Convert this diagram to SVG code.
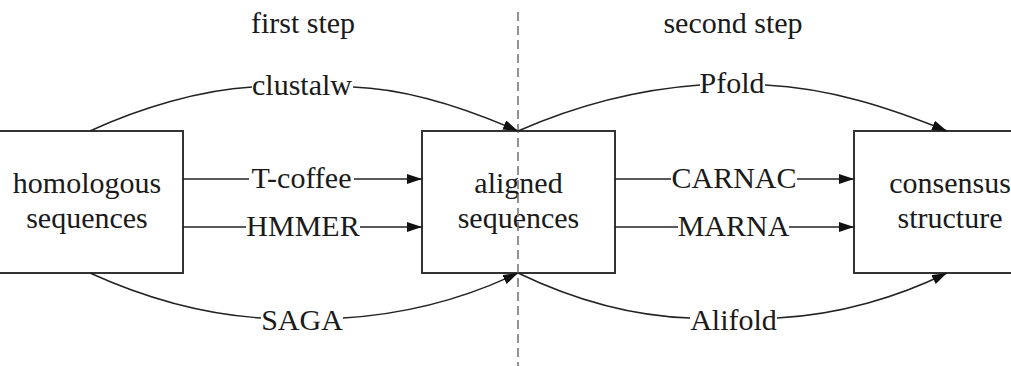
<svg xmlns="http://www.w3.org/2000/svg" width="1011" height="366" viewBox="0 0 1011 366">
<style>
.box{fill:#fff;stroke:#333;stroke-width:2}
.t{font-family:'Liberation Serif','Times New Roman',Times,'DejaVu Serif',serif;font-size:30px;fill:#1a1a1a;text-anchor:middle}
.c{fill:none;stroke:#222;stroke-width:1.4}
.a{marker-end:url(#arr)}
.dash{stroke:#777;stroke-width:1.6;stroke-dasharray:9 5;fill:none}
</style>
<defs>
<marker id="arr" markerUnits="userSpaceOnUse" markerWidth="16" markerHeight="12" refX="15" refY="5" orient="auto">
<path d="M0,0 L15,5 L0,10 Z" fill="#111"/>
</marker>
</defs>
<rect width="1011" height="366" fill="#fff"/>
<g id="node-homologous">
<rect class="box" x="-10" y="131" width="193" height="142"/>
<text class="t" font-family="Liberation Serif, serif" x="87" y="193">homologous</text>
<text class="t" font-family="Liberation Serif, serif" x="87" y="228">sequences</text>
</g>
<g id="node-aligned">
<rect class="box" x="422" y="131" width="193" height="142"/>
<text class="t" x="518.5" y="193">aligned</text>
<text class="t" x="518.5" y="228">sequences</text>
</g>
<g id="node-consensus">
<rect class="box" x="854" y="131" width="193" height="142"/>
<text class="t" x="950" y="193">consensus</text>
<text class="t" x="950" y="228">structure</text>
</g>
<g id="divider">
<line class="dash" x1="518" y1="12" x2="518" y2="366"/>
<text class="t" x="303" y="33">first step</text>
<text class="t" x="733" y="33">second step</text>
</g>
<g id="connectors">
<path class="c" d="M90,131 C140,108 200,90 252,87"/>
<path class="c a" d="M353,87 C410,89 470,110 518,131"/>
<text class="t" x="302" y="95">clustalw</text>
<line class="c" x1="183" y1="179" x2="249" y2="179"/>
<line class="c a" x1="354" y1="179" x2="422" y2="179"/>
<text class="t" x="301.5" y="188">T-coffee</text>
<line class="c" x1="183" y1="227" x2="246" y2="227"/>
<line class="c a" x1="360" y1="227" x2="422" y2="227"/>
<text class="t" x="303" y="236">HMMER</text>
<path class="c" d="M90,273 C145,298 200,314 261,318"/>
<path class="c a" d="M343,318 C410,314 470,296 518,273"/>
<text class="t" x="302" y="330">SAGA</text>
<path class="c" d="M518,131 C566,110 630,90 700,85"/>
<path class="c a" d="M765,85 C830,88 890,108 947,131"/>
<text class="t" x="732" y="93">Pfold</text>
<line class="c" x1="615" y1="179" x2="671" y2="179"/>
<line class="c a" x1="797" y1="179" x2="854" y2="179"/>
<text class="t" x="734" y="188">CARNAC</text>
<line class="c" x1="615" y1="227" x2="678" y2="227"/>
<line class="c a" x1="789" y1="227" x2="854" y2="227"/>
<text class="t" x="733.5" y="236">MARNA</text>
<path class="c" d="M518,273 C570,298 630,316 690,318"/>
<path class="c a" d="M777,318 C840,315 900,296 947,273"/>
<text class="t" x="733.5" y="330">Alifold</text>
</g>
</svg>
